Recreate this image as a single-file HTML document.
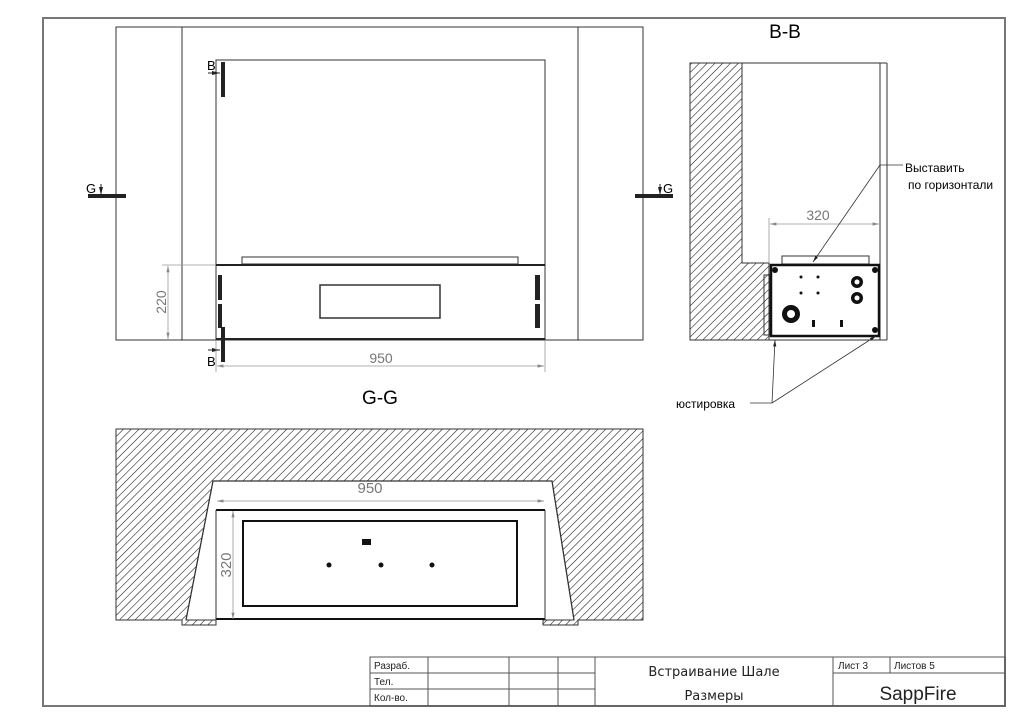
<!DOCTYPE html>
<html><head><meta charset="utf-8"><style>
html,body{margin:0;padding:0;background:#fff;width:1024px;height:724px;overflow:hidden}
svg{display:block}
text{font-family:"Liberation Sans",sans-serif}
.c{font-family:"DejaVu Sans","Liberation Sans",sans-serif}
</style></head><body>
<svg width="1024" height="724" viewBox="0 0 1024 724" xmlns="http://www.w3.org/2000/svg">
<defs>
<pattern id="h" patternUnits="userSpaceOnUse" width="5.5" height="5.5" patternTransform="rotate(45)">
<line x1="0" y1="0" x2="0" y2="5.5" stroke="#111" stroke-width="1.1"/>
</pattern>
<marker id="a" markerWidth="8" markerHeight="6" refX="8" refY="3" orient="auto"><path d="M0,1 L8,3 L0,5" fill="#888"/></marker>
<marker id="ab" markerWidth="8" markerHeight="6" refX="8" refY="3" orient="auto"><path d="M0,1 L8,3 L0,5" fill="#222"/></marker>
</defs>
<rect x="43" y="18" width="962" height="688" fill="none" stroke="#777" stroke-width="2"/>

<g fill="none" stroke="#333" stroke-width="1">
<rect x="116" y="27" width="527" height="313"/>
<line x1="182" y1="27" x2="182" y2="340"/>
<line x1="578" y1="27" x2="578" y2="340"/>
<rect x="216" y="60" width="329" height="280"/>
<rect x="242" y="257" width="276" height="7"/>
<rect x="320" y="285" width="120" height="33" stroke-width="1.5"/>
</g>
<line x1="216" y1="265" x2="545" y2="265" stroke="#222" stroke-width="2"/>
<line x1="216" y1="339" x2="545" y2="339" stroke="#222" stroke-width="2"/>
<g fill="#222">
<rect x="218" y="275" width="4" height="25"/><rect x="218" y="304" width="4" height="24"/>
<rect x="535" y="275" width="5" height="25"/><rect x="535" y="304" width="5" height="24"/>
<rect x="221" y="62" width="4" height="35"/><rect x="221" y="327" width="4" height="35"/>
<rect x="88" y="194" width="38" height="4"/><rect x="635" y="194" width="38" height="4"/>
</g>
<line x1="208" y1="73" x2="220" y2="73" stroke="#222" stroke-width="1" marker-end="url(#ab)"/>
<line x1="208" y1="350" x2="220" y2="350" stroke="#222" stroke-width="1" marker-end="url(#ab)"/>
<line x1="101" y1="184" x2="101" y2="195" stroke="#222" stroke-width="1" marker-end="url(#ab)"/>
<line x1="660" y1="184" x2="660" y2="195" stroke="#222" stroke-width="1" marker-end="url(#ab)"/>
<text x="207" y="70" font-size="13">B</text>
<text x="207" y="366" font-size="13">B</text>
<text x="86" y="193" font-size="13">G</text>
<text x="663" y="193" font-size="13">G</text>
<g stroke="#999" stroke-width="0.8" fill="none">
<line x1="162" y1="265" x2="216" y2="265"/>
<line x1="168" y1="302" x2="168" y2="266" marker-end="url(#a)"/>
<line x1="168" y1="302" x2="168" y2="339" marker-end="url(#a)"/>
<line x1="216" y1="340" x2="216" y2="372"/><line x1="545" y1="340" x2="545" y2="372"/>
<line x1="380" y1="366" x2="217" y2="366" marker-end="url(#a)"/>
<line x1="380" y1="366" x2="544" y2="366" marker-end="url(#a)"/>
</g>
<text x="166" y="302" font-size="14" fill="#777" transform="rotate(-90 166 302)" text-anchor="middle">220</text>
<text x="381" y="363" font-size="14" fill="#777" text-anchor="middle">950</text>
<text x="380" y="404" font-size="19" text-anchor="middle">G-G</text>
<text x="785" y="38" font-size="19" text-anchor="middle">B-B</text>

<path d="M690,63 L742,63 L742,263 L769,263 L769,340 L690,340 Z" fill="url(#h)" stroke="#333" stroke-width="1"/>
<g fill="none" stroke="#333" stroke-width="1">
<line x1="742" y1="63" x2="887" y2="63"/>
<line x1="880" y1="63" x2="880" y2="340"/>
<line x1="887" y1="63" x2="887" y2="340"/>
<line x1="769" y1="340" x2="887" y2="340"/>
<rect x="782" y="256" width="87" height="8"/>
<rect x="764" y="275" width="6" height="60"/>
</g>
<rect x="771" y="265" width="108" height="71" fill="none" stroke="#111" stroke-width="2.5"/>
<g fill="#111">
<circle cx="775" cy="270" r="3"/><circle cx="875" cy="270" r="3"/><circle cx="875" cy="330" r="3"/>
<circle cx="801" cy="277" r="1.5"/><circle cx="818" cy="277" r="1.5"/><circle cx="801" cy="293" r="1.5"/><circle cx="818" cy="293" r="1.5"/>
<circle cx="857" cy="282" r="6"/><circle cx="857" cy="298" r="6"/>
<circle cx="791" cy="314" r="9"/>
<rect x="812" y="320" width="3" height="7"/><rect x="840" y="320" width="3" height="7"/>
</g>
<circle cx="857" cy="282" r="2.5" fill="#fff"/><circle cx="857" cy="298" r="2.5" fill="#fff"/>
<circle cx="791" cy="314" r="4" fill="#fff"/>
<g stroke="#999" stroke-width="0.8" fill="none">
<line x1="769" y1="218" x2="769" y2="262"/>
<line x1="825" y1="224" x2="770" y2="224" marker-end="url(#a)"/>
<line x1="825" y1="224" x2="879" y2="224" marker-end="url(#a)"/>
</g>
<text x="818" y="220" font-size="14" fill="#777" text-anchor="middle">320</text>
<g stroke="#333" stroke-width="0.8" fill="none">
<line x1="903" y1="165" x2="880" y2="165"/>
<line x1="880" y1="165" x2="813" y2="262" marker-end="url(#ab)"/>
<line x1="750" y1="403" x2="772" y2="403"/>
<line x1="772" y1="403" x2="775" y2="340" marker-end="url(#ab)"/>
<line x1="772" y1="403" x2="876" y2="336" marker-end="url(#ab)"/>
</g>
<text x="905" y="172" font-size="12">Выставить</text>
<text x="908" y="189" font-size="12">по горизонтали</text>
<text x="676" y="408" font-size="12">юстировка</text>

<path d="M116,429 L643,429 L643,620 L578,620 L578,625 L543,625 L543,620 L574,620 L552,481 L213,481 L186,620 L216,620 L216,625 L182,625 L182,620 L116,620 Z" fill="url(#h)" stroke="#333" stroke-width="1"/>
<path d="M186,620 L213,481 L552,481 L574,620" fill="none" stroke="#333" stroke-width="1.2"/>
<line x1="216" y1="510" x2="545" y2="510" stroke="#111" stroke-width="2"/>
<line x1="216" y1="619" x2="545" y2="619" stroke="#111" stroke-width="2"/>
<line x1="216" y1="510" x2="216" y2="620" stroke="#333"/>
<line x1="545" y1="510" x2="545" y2="620" stroke="#333"/>
<rect x="243" y="521" width="274" height="85" fill="none" stroke="#111" stroke-width="2"/>
<g fill="#111"><circle cx="329" cy="565" r="2.5"/><circle cx="381" cy="565" r="2.5"/><circle cx="432" cy="565" r="2.5"/>
<rect x="362" y="539" width="9" height="6"/></g>
<g stroke="#999" stroke-width="0.8" fill="none">
<line x1="380" y1="501" x2="217" y2="501" marker-end="url(#a)"/>
<line x1="380" y1="501" x2="544" y2="501" marker-end="url(#a)"/>
<line x1="233" y1="565" x2="233" y2="511" marker-end="url(#a)"/>
<line x1="233" y1="565" x2="233" y2="619" marker-end="url(#a)"/>
</g>
<text x="370" y="493" font-size="15" fill="#777" text-anchor="middle">950</text>
<text x="231" y="565" font-size="15" fill="#777" text-anchor="middle" transform="rotate(-90 231 565)">320</text>

<g stroke="#555" stroke-width="1" fill="none">
<rect x="370" y="657" width="635" height="49"/>
<line x1="370" y1="673" x2="595" y2="673"/><line x1="370" y1="689" x2="595" y2="689"/>
<line x1="833" y1="673" x2="1005" y2="673"/>
<line x1="428" y1="657" x2="428" y2="706"/><line x1="509" y1="657" x2="509" y2="706"/>
<line x1="558" y1="657" x2="558" y2="706"/><line x1="595" y1="657" x2="595" y2="706"/>
<line x1="833" y1="657" x2="833" y2="706"/><line x1="890" y1="657" x2="890" y2="673"/>
</g>
<g class="c" font-size="10" fill="#222">
<text x="374" y="669">Разраб.</text>
<text x="374" y="685">Тел.</text>
<text x="374" y="701">Кол-во.</text>
<text x="838" y="669">Лист 3</text>
<text x="894" y="669">Листов 5</text>
</g>
<text class="c" x="714" y="676" font-size="13" text-anchor="middle" fill="#222">Встраивание Шале</text>
<text class="c" x="714" y="700" font-size="13" text-anchor="middle" fill="#222">Размеры</text>
<text x="918" y="700" font-size="19" text-anchor="middle" fill="#222">SappFire</text>
</svg>
</body></html>
